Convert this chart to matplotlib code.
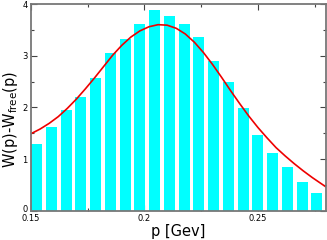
import matplotlib
matplotlib.use("Agg")
import matplotlib.pyplot as plt
from matplotlib.ticker import MultipleLocator
from matplotlib.transforms import ScaledTranslation

# Histogram data
p_bins = [0.1525 + 0.0065 * i for i in range(20)]
heights = [1.30, 1.62, 1.95, 2.20, 2.57, 3.05, 3.32, 3.61, 3.88, 3.77,
           3.62, 3.36, 2.90, 2.50, 1.99, 1.47, 1.12, 0.84, 0.55, 0.34]

# Fitted curve
curve_p = [0.150, 0.154, 0.158, 0.162, 0.166, 0.170, 0.174, 0.178, 0.182,
           0.186, 0.190, 0.194, 0.198, 0.202, 0.206, 0.210, 0.214, 0.218,
           0.222, 0.226, 0.230, 0.234, 0.238, 0.242, 0.246, 0.250, 0.254,
           0.258, 0.262, 0.266, 0.270, 0.274, 0.278, 0.280]
curve_w = [1.49, 1.58, 1.69, 1.82, 1.98, 2.16, 2.36, 2.57, 2.79,
           3.01, 3.20, 3.36, 3.48, 3.56, 3.60, 3.59, 3.53, 3.42,
           3.26, 3.06, 2.83, 2.58, 2.32, 2.07, 1.83, 1.61, 1.41,
           1.22, 1.06, 0.91, 0.77, 0.64, 0.52, 0.46]

xticks = [0.15, 0.2, 0.25]
xticklabels = ["0.15", "0.2", "0.25"]
yticks = [0, 1, 2, 3, 4]

fig = plt.figure(figsize=(3.27, 2.40), dpi=100)
ax = fig.add_axes([31/327, 1 - 210.7/240, (326 - 31)/327, (210.7 - 4)/240])

ax.bar(p_bins, heights, width=0.0049, color="#00FFFF", edgecolor="none", zorder=2)
ax.plot(curve_p, curve_w, color="#EE0000", lw=1.2, zorder=3)

ax.set_xlim(0.15, 0.28)
ax.set_ylim(0, 4)
ax.set_xticks(xticks)
ax.set_xticklabels(xticklabels)
ax.set_yticks(yticks)
ax.xaxis.set_minor_locator(MultipleLocator(0.025))
ax.yaxis.set_minor_locator(MultipleLocator(0.5))

for s in ax.spines.values():
    s.set_color("#777777")
    s.set_linewidth(1.3)
    s.set_zorder(4)

ax.tick_params(which="both", direction="in", top=True, right=True,
               color="#444444", width=0.8)
ax.tick_params(which="major", length=4, labelsize=6)
ax.tick_params(axis="x", which="major", pad=2.5)
ax.tick_params(axis="y", which="major", pad=2.5)
ax.tick_params(which="minor", length=2.5)

# nudge the "0" y tick label up slightly so it clears "0.15"
lbl0 = ax.get_yticklabels()[0]
lbl0.set_transform(lbl0.get_transform() + ScaledTranslation(0, 2/100, fig.dpi_scale_trans))

ax.set_xlabel("p [Gev]", fontsize=10.5)
ax.xaxis.set_label_coords(0.5, -0.065, transform=ax.transAxes)
ax.xaxis.label.set_va("top")
ax.set_ylabel(r"W(p)-W$_{\rm free}$(p)", fontsize=10.5)
ax.yaxis.set_label_coords(-0.068, 0.444)
ax.yaxis.label.set_va("center")

fig.savefig("out.png", dpi=100)
